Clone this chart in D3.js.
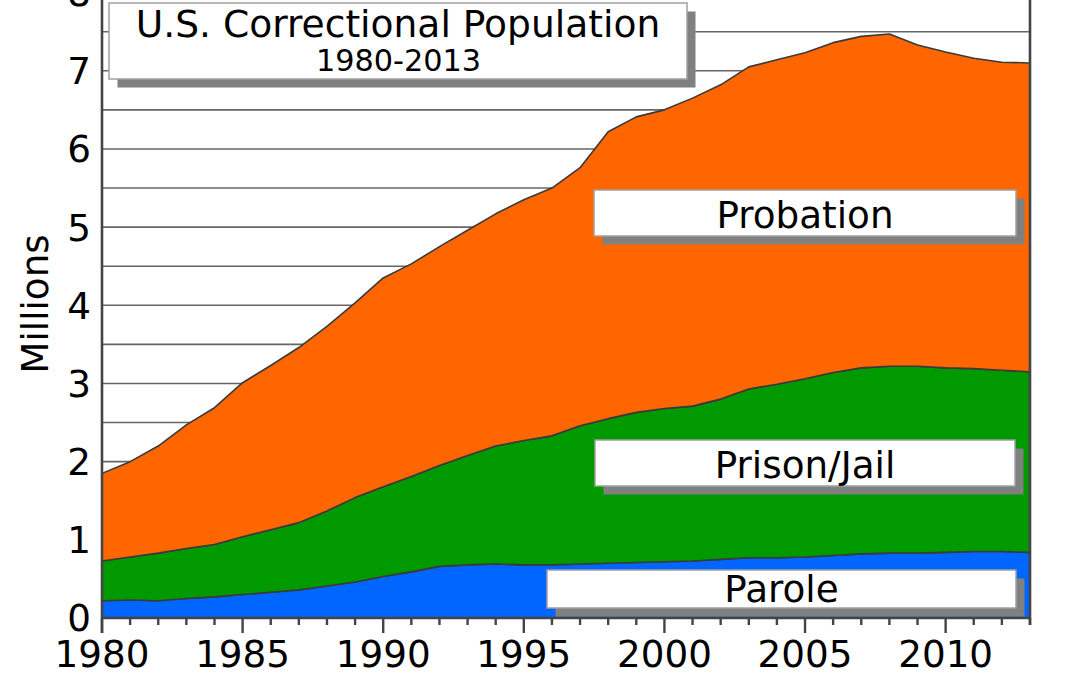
<!DOCTYPE html>
<html>
<head>
<meta charset="utf-8">
<script src="https://cdn.jsdelivr.net/npm/d3@7"></script>
<style>
html,body{margin:0;padding:0;background:#fff;}
svg{display:block;font-family:"DejaVu Sans",sans-serif;}
</style>
</head>
<body>
<svg id="chart" width="1080" height="675"></svg>
<script>
// ---- data (millions) ----
const years = [1980,1981,1982,1983,1984,1985,1986,1987,1988,1989,1990,1991,1992,1993,1994,1995,1996,
  1997,1998,1999,2000,2001,2002,2003,2004,2005,2006,2007,2008,2009,2010,2011,2012,2013];
const parole = [0.22,0.23,0.22,0.25,0.27,0.30,0.33,0.36,0.41,0.46,0.53,0.59,0.66,0.68,0.69,0.68,0.68,
  0.69,0.70,0.71,0.72,0.73,0.75,0.77,0.77,0.78,0.80,0.82,0.83,0.83,0.84,0.85,0.85,0.84];
const prisonJail = [0.51,0.55,0.61,0.64,0.67,0.74,0.80,0.86,0.96,1.08,1.15,1.22,1.29,1.40,1.51,1.59,1.65,
  1.77,1.85,1.92,1.96,1.98,2.05,2.16,2.22,2.28,2.34,2.38,2.39,2.39,2.36,2.34,2.32,2.31];
const probation = [1.12,1.22,1.37,1.58,1.75,1.97,2.10,2.24,2.36,2.49,2.67,2.72,2.80,2.88,2.97,3.08,3.17,
  3.30,3.67,3.78,3.82,3.94,4.02,4.12,4.15,4.17,4.22,4.24,4.25,4.11,4.04,3.97,3.94,3.95];
const seriesNames = ["Parole","Prison/Jail","Probation"];
const seriesColors = ["#0066ff","#009900","#ff6600"];
const yTicks = [0,1,2,3,4,5,6,7,8];
const gridValues = [0.5,1,1.5,2,2.5,3,3.5,4,4.5,5,5.5,6,6.5,7,7.5];
const xMajor = [1980,1985,1990,1995,2000,2005,2010];
const titleText = "U.S. Correctional Population";
const subtitleText = "1980-2013";
const yAxisTitle = "Millions";

// ---- layout ----
const svg = d3.select("#chart");
const x = d3.scaleLinear().domain([1980,2013]).range([102,1030]);
const y = d3.scaleLinear().domain([0,8]).range([618,-7.4]);
const font = 37.3;

const table = years.map((yr,i)=>({year:yr, "Parole":parole[i], "Prison/Jail":prisonJail[i], "Probation":probation[i]}));
const stacked = d3.stack().keys(seriesNames)(table);

// grid lines
svg.append("g").selectAll("line").data(gridValues).join("line")
  .attr("x1", x(1980)).attr("x2", x(2013))
  .attr("y1", d=>y(d)).attr("y2", d=>y(d))
  .attr("stroke","#666").attr("stroke-width",1.6);

// areas
const area = d3.area().x(d=>x(d.data.year)).y0(d=>y(d[0])).y1(d=>y(d[1]));
svg.append("g").selectAll("path").data(stacked).join("path")
  .attr("d", area)
  .attr("fill",(d,i)=>seriesColors[i])
  .attr("stroke","#3a3a3a").attr("stroke-width",1.6).attr("stroke-linejoin","round");

// axes lines
const axisColor = "#444";
svg.append("line").attr("x1",x(1980)).attr("x2",x(1980)).attr("y1",-10).attr("y2",y(0)+15)
  .attr("stroke",axisColor).attr("stroke-width",2.6);
svg.append("line").attr("x1",x(2013)).attr("x2",x(2013)).attr("y1",-10).attr("y2",y(0)+7)
  .attr("stroke",axisColor).attr("stroke-width",2.6);
svg.append("line").attr("x1",x(1980)).attr("x2",x(2013)).attr("y1",y(0)).attr("y2",y(0))
  .attr("stroke",axisColor).attr("stroke-width",2.6);

// x ticks
svg.append("g").selectAll("line").data(years).join("line")
  .attr("x1",d=>x(d)).attr("x2",d=>x(d))
  .attr("y1",y(0)).attr("y2",d=> xMajor.includes(d) ? y(0)+15 : y(0)+7)
  .attr("stroke",axisColor).attr("stroke-width",2.4);

svg.append("g").selectAll("text").data(xMajor).join("text")
  .attr("x",d=>x(d)).attr("y",667)
  .attr("text-anchor","middle").attr("font-size",font).attr("fill","#000")
  .text(d=>d);

// y labels
svg.append("g").selectAll("text").data(yTicks).join("text")
  .attr("x",91).attr("y",d=>y(d)).attr("dy","0.36em")
  .attr("text-anchor","end").attr("font-size",font).attr("fill","#000")
  .text(d=>d);

svg.append("text").attr("transform","translate(48,304) rotate(-90)")
  .attr("text-anchor","middle").attr("font-size",font).attr("fill","#000")
  .text(yAxisTitle);

// label boxes with shadow
function box(x0,y0,x1,y1){
  svg.append("rect").attr("x",x0+8.5).attr("y",y0+8.5).attr("width",x1-x0).attr("height",y1-y0)
    .attr("fill","#808080");
  svg.append("rect").attr("x",x0).attr("y",y0).attr("width",x1-x0).attr("height",y1-y0)
    .attr("fill","#fff").attr("stroke","#a0a0a0").attr("stroke-width",1.5);
}
box(109,3,687,79);
svg.append("text").attr("x",398).attr("y",36.5).attr("text-anchor","middle")
  .attr("font-size",37.6).text(titleText);
svg.append("text").attr("x",398.5).attr("y",71).attr("text-anchor","middle")
  .attr("font-size",30.3).text(subtitleText);

const labelBoxes = [
  {name:seriesNames[2], x0:594, y0:190, x1:1016, y1:236, base:228},
  {name:seriesNames[1], x0:595, y0:440, x1:1015, y1:486, base:478},
  {name:seriesNames[0], x0:547, y0:570, x1:1016, y1:608, base:602}
];
labelBoxes.forEach(b=>{
  box(b.x0,b.y0,b.x1,b.y1);
  svg.append("text").attr("x",(b.x0+b.x1)/2).attr("y",b.base).attr("text-anchor","middle")
    .attr("font-size",font).text(b.name);
});
</script>
</body>
</html>
